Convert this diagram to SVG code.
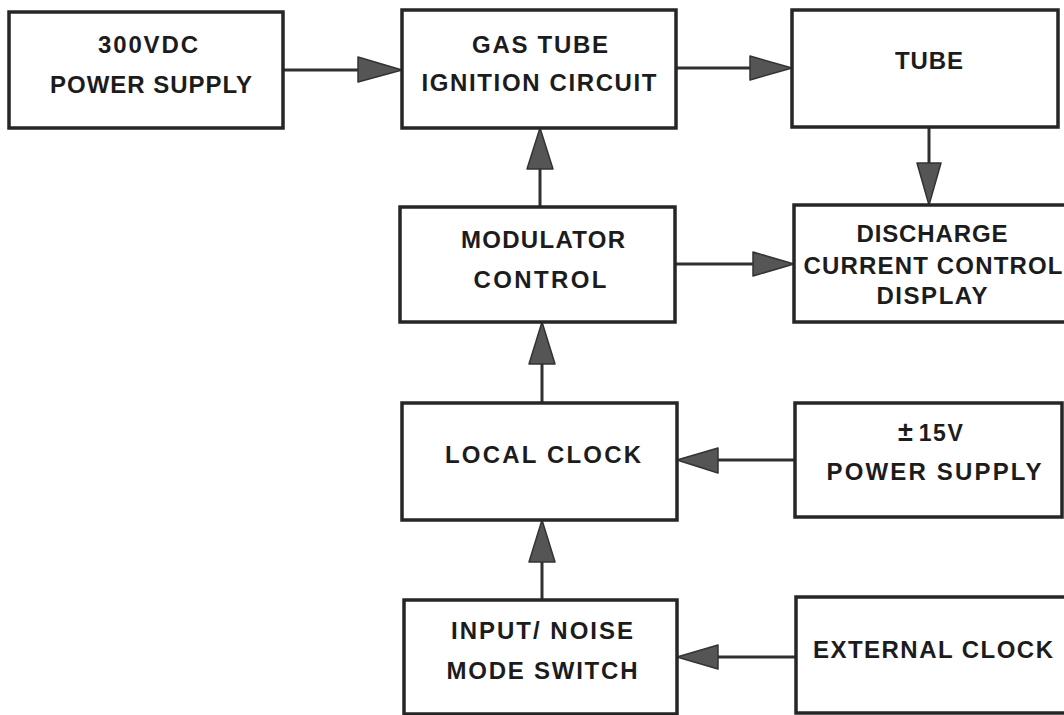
<svg xmlns="http://www.w3.org/2000/svg" width="1064" height="715" viewBox="0 0 1064 715">
  <style>
    .box { fill: #ffffff; stroke: #262626; stroke-width: 3.5; }
    .lbl { font-family: "Liberation Sans", Arial, sans-serif; font-weight: bold; font-size: 24px; fill: #1c1c1c; text-anchor: middle; }
    .wire { stroke: #303030; stroke-width: 3; fill: none; }
    .head { fill: #555555; stroke: #333333; stroke-width: 1.5; stroke-linejoin: round; }
  </style>
  <rect x="0" y="0" width="1064" height="715" fill="#ffffff"/>

  <!-- connectors: shaft plus filled wedge head -->
  <g id="connectors">
    <line class="wire" x1="283" y1="70" x2="360" y2="70"/>
    <polygon class="head" points="358,57 402,70 358,82"/>

    <line class="wire" x1="676" y1="68" x2="752" y2="68"/>
    <polygon class="head" points="750,56 792,68 750,80"/>

    <line class="wire" x1="929" y1="127" x2="929" y2="165"/>
    <polygon class="head" points="917,163 929,205 941,163"/>

    <line class="wire" x1="540" y1="207" x2="540" y2="167"/>
    <polygon class="head" points="527,169 540,128 553,169"/>

    <line class="wire" x1="675" y1="264" x2="755" y2="264"/>
    <polygon class="head" points="753,252 794,264 753,276"/>

    <line class="wire" x1="542" y1="403" x2="542" y2="362"/>
    <polygon class="head" points="529,364 542,322 555,364"/>

    <line class="wire" x1="795" y1="460" x2="716" y2="460"/>
    <polygon class="head" points="718,448 677,460 718,473"/>

    <line class="wire" x1="542" y1="600" x2="542" y2="560"/>
    <polygon class="head" points="529,562 542,520 555,562"/>

    <line class="wire" x1="796" y1="657" x2="716" y2="657"/>
    <polygon class="head" points="718,645 677,657 718,669"/>
  </g>

  <g id="power300">
    <rect class="box" x="9" y="12" width="274" height="116"/>
    <text class="lbl" x="148" y="53" textLength="100" lengthAdjust="spacing">300VDC</text>
    <text class="lbl" x="151" y="93" textLength="202" lengthAdjust="spacing">POWER SUPPLY</text>
  </g>

  <g id="ignition">
    <rect class="box" x="402" y="10" width="274" height="118"/>
    <text class="lbl" x="540" y="53" textLength="136" lengthAdjust="spacing">GAS TUBE</text>
    <text class="lbl" x="539" y="91" textLength="235" lengthAdjust="spacing">IGNITION CIRCUIT</text>
  </g>

  <g id="tube">
    <rect class="box" x="792" y="10" width="266" height="117"/>
    <text class="lbl" x="929" y="69" textLength="68" lengthAdjust="spacing">TUBE</text>
  </g>

  <g id="modulator">
    <rect class="box" x="400" y="207" width="275" height="115"/>
    <text class="lbl" x="543" y="248" textLength="164" lengthAdjust="spacing">MODULATOR</text>
    <text class="lbl" x="540" y="288" textLength="133" lengthAdjust="spacing">CONTROL</text>
  </g>

  <g id="discharge">
    <rect class="box" x="794" y="205" width="274" height="117"/>
    <text class="lbl" x="932" y="242" textLength="151" lengthAdjust="spacing">DISCHARGE</text>
    <text class="lbl" x="933" y="274" textLength="259" lengthAdjust="spacing">CURRENT CONTROL</text>
    <text class="lbl" x="932" y="304" textLength="111" lengthAdjust="spacing">DISPLAY</text>
  </g>

  <g id="localclock">
    <rect class="box" x="402" y="403" width="275" height="117"/>
    <text class="lbl" x="543" y="463" textLength="196" lengthAdjust="spacing">LOCAL CLOCK</text>
  </g>

  <g id="power15">
    <rect class="box" x="795" y="403" width="267" height="114"/>
    <text class="lbl" x="898" y="441" style="text-anchor:start;font-size:27px">±<tspan dx="6" style="font-size:23px;letter-spacing:1.5px">15V</tspan></text>
    <text class="lbl" x="934" y="480" textLength="215" lengthAdjust="spacing">POWER SUPPLY</text>
  </g>

  <g id="modeswitch">
    <rect class="box" x="404" y="600" width="273" height="114"/>
    <text class="lbl" x="542" y="639" textLength="182" lengthAdjust="spacing">INPUT/ NOISE</text>
    <text class="lbl" x="542" y="679" textLength="191" lengthAdjust="spacing">MODE SWITCH</text>
  </g>

  <g id="extclock">
    <rect class="box" x="796" y="597" width="272" height="116"/>
    <text class="lbl" x="933" y="658" textLength="240" lengthAdjust="spacing">EXTERNAL CLOCK</text>
  </g>
</svg>
